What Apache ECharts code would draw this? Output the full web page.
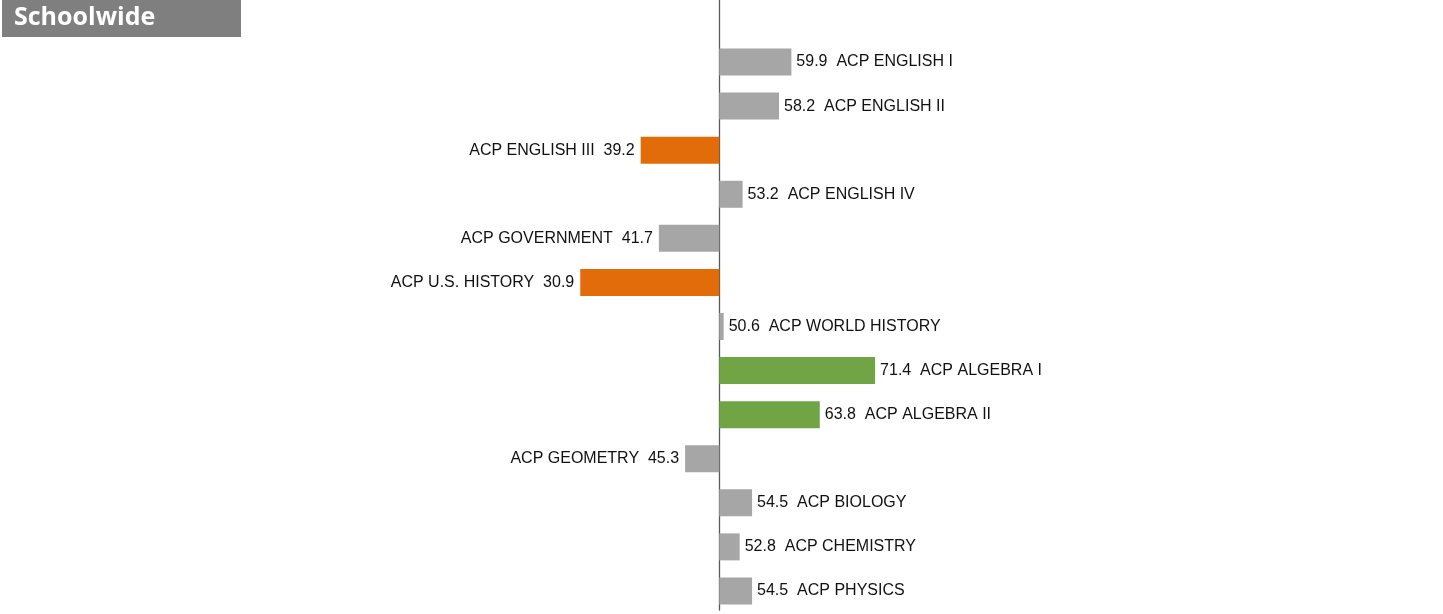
<!DOCTYPE html>
<html>
<head>
<meta charset="utf-8">
<script src="https://cdn.jsdelivr.net/npm/echarts@6/dist/echarts.min.js"></script>
<style>
  html, body { margin: 0; padding: 0; background: #ffffff; }
  #chart { width: 1443px; height: 614px; }
</style>
</head>
<body>
<div id="chart"></div>
<script>
// Course names, top to bottom
const courses = [
  'ACP ENGLISH I', 'ACP ENGLISH II', 'ACP ENGLISH III', 'ACP ENGLISH IV',
  'ACP GOVERNMENT', 'ACP U.S. HISTORY', 'ACP WORLD HISTORY',
  'ACP ALGEBRA I', 'ACP ALGEBRA II', 'ACP GEOMETRY',
  'ACP BIOLOGY', 'ACP CHEMISTRY', 'ACP PHYSICS'
];
// Schoolwide scores per course
const scores = [59.9, 58.2, 39.2, 53.2, 41.7, 30.9, 50.6, 71.4, 63.8, 45.3, 54.5, 52.8, 54.5];
// Performance band of each course: 'low', 'mid', 'high'
const bands = ['mid', 'mid', 'low', 'mid', 'mid', 'low', 'mid', 'high', 'high', 'mid', 'mid', 'mid', 'mid'];
// Bars diverge from this reference score
const BASELINE = 50;

const bandColors = { low: '#E36C0A', mid: '#A6A6A6', high: '#70A444' };

const chart = echarts.init(document.getElementById('chart'), null, { renderer: 'canvas' });

const barData = scores.map((v, i) => {
  const d = +(v - BASELINE).toFixed(1);
  return {
    value: d,
    itemStyle: { color: bandColors[bands[i]] },
    label: {
      position: d >= 0 ? 'right' : 'left',
      distance: d >= 0 ? 5 : 6,
      formatter: d >= 0
        ? v.toFixed(1) + '  ' + courses[i]
        : courses[i] + '  ' + v.toFixed(1)
    }
  };
});

const option = {
  animation: false,
  backgroundColor: '#ffffff',
  grid: [
    { left: 355.3, right: 359.7, top: 40, bottom: 1 },
    { left: 355.3, right: 359.7, top: 0, bottom: 4 }
  ],
  xAxis: [
    { type: 'value', gridIndex: 0, min: -BASELINE, max: BASELINE, show: false },
    { type: 'value', gridIndex: 1, min: -BASELINE, max: BASELINE, show: false }
  ],
  yAxis: [
    {
      type: 'category', gridIndex: 0, inverse: true, data: courses,
      axisLine: { show: false }, axisTick: { show: false },
      axisLabel: { show: false }, splitLine: { show: false }
    },
    {
      type: 'value', gridIndex: 1, min: 0, max: 1,
      axisLine: { show: true, onZero: true, lineStyle: { color: '#595959', width: 1.3 } },
      axisTick: { show: false }, axisLabel: { show: false }, splitLine: { show: false }
    }
  ],
  graphic: [
    {
      type: 'group', left: 2, top: 0,
      children: [
        { type: 'rect', shape: { x: 0, y: 0, width: 239, height: 37 }, style: { fill: '#7F7F7F' } },
        {
          type: 'text', x: 12, y: 18,
          style: {
            text: 'Schoolwide', fill: '#ffffff',
            font: 'bold 25px "Open Sans", Lato, sans-serif',
            textVerticalAlign: 'middle'
          }
        }
      ]
    }
  ],
  series: [
    {
      type: 'bar',
      xAxisIndex: 0, yAxisIndex: 0,
      barWidth: 27,
      data: barData,
      label: {
        show: true,
        color: '#111111',
        fontFamily: '"Liberation Sans", Arial, sans-serif',
        fontSize: 16
      }
    }
  ]
};

chart.setOption(option);
</script>
</body>
</html>
